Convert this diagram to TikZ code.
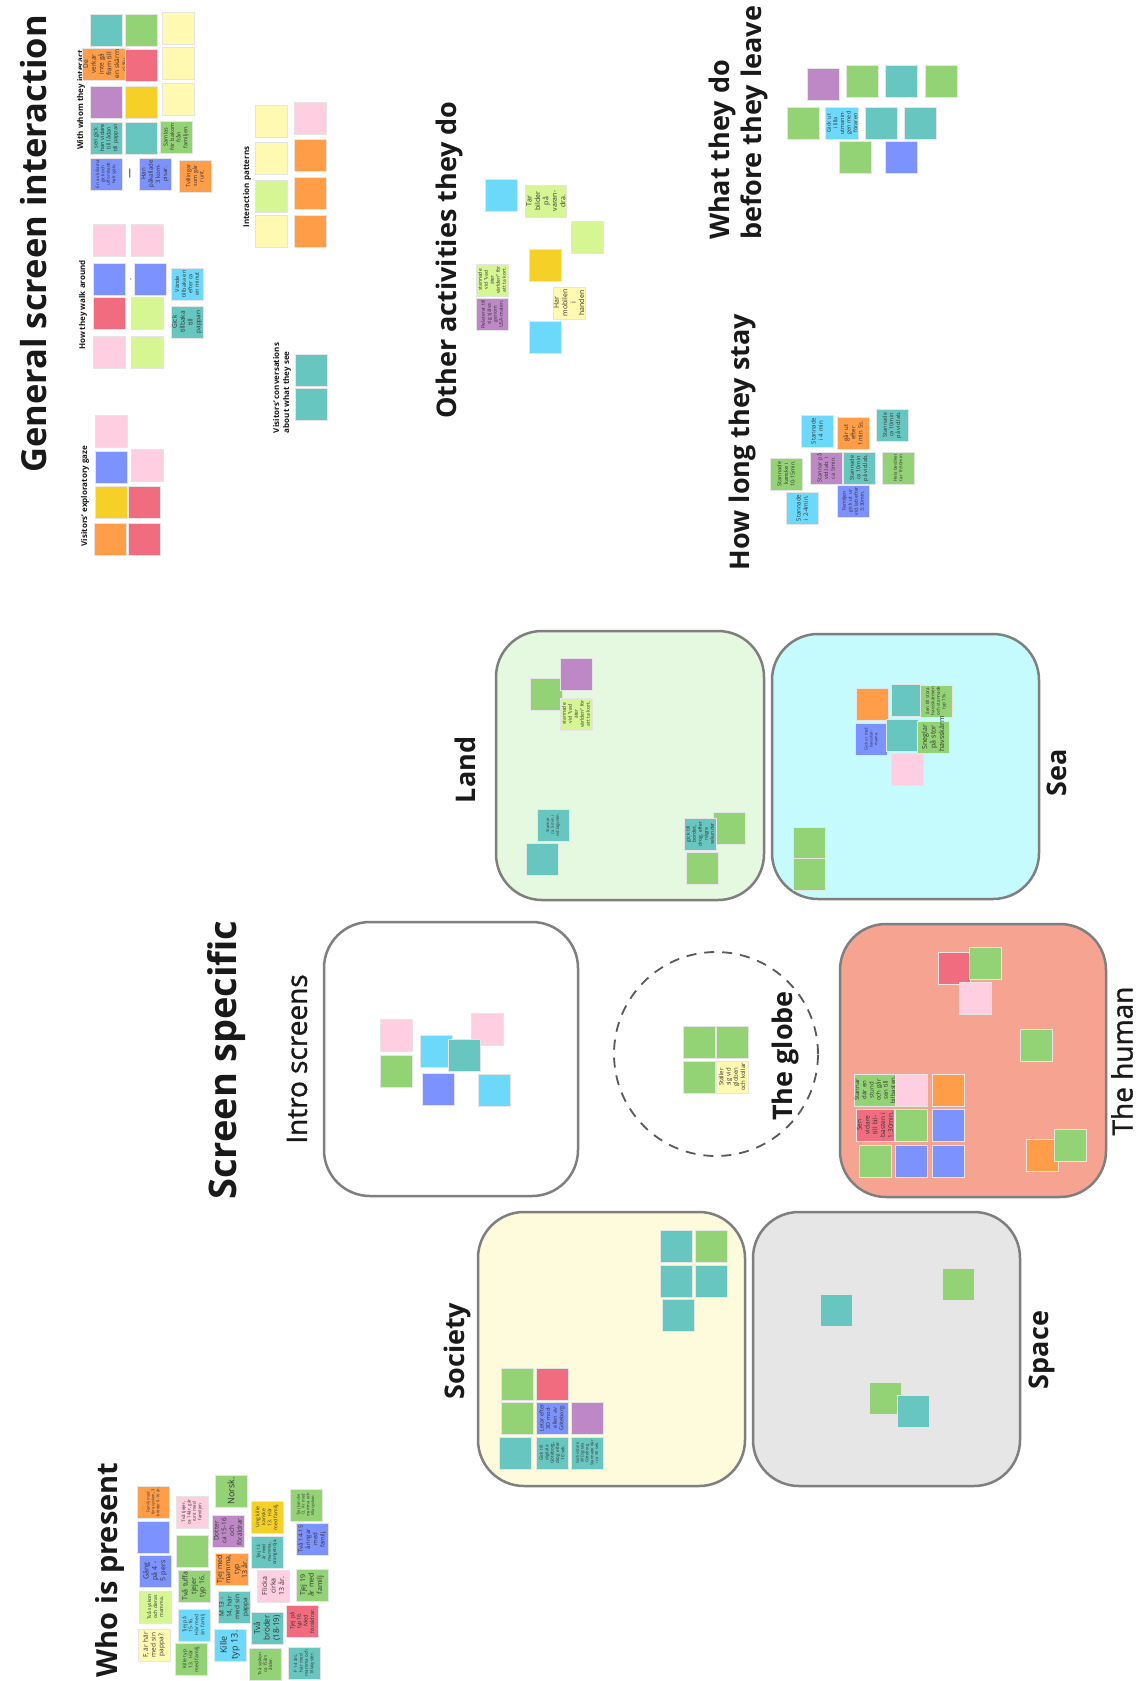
\documentclass[tikz,border=0pt]{standalone}
\usepackage{fontspec}
\setmainfont{Open Sans}
\newfontfamily\semibold[FakeBold=1.2]{Open Sans}
\begin{document}
\begin{tikzpicture}[x=1pt,y=-1pt,
  nt/.style={draw=black!10, line width=0.5pt, minimum size=32pt, inner sep=1pt,
    rotate=90, text width=29pt, align=center, text=black!80,
    font=\fontsize{5}{6}\selectfont},
  f4/.style={font=\fontsize{4}{4.8}\selectfont},
  f45/.style={font=\fontsize{4.5}{5.4}\selectfont},
  f5/.style={font=\fontsize{5}{6}\selectfont},
  f55/.style={font=\fontsize{5.5}{6.6}\selectfont},
  f6/.style={font=\fontsize{6}{7.2}\selectfont},
  f65/.style={font=\fontsize{6.5}{7.8}\selectfont},
  f7/.style={font=\fontsize{7}{8.4}\selectfont},
  f8/.style={font=\fontsize{8}{9.6}\selectfont},
  f9/.style={font=\fontsize{9}{10.8}\selectfont},
  frm/.style={draw=frameGrey, line width=2.5pt, rounded corners=46pt},
  ttl/.style={rotate=90, inner sep=0pt, text=black!90,
    font=\bfseries\fontsize{27}{32}\selectfont},
  sub/.style={rotate=90, inner sep=0pt, text=black!90, align=left,
    font=\bfseries\fontsize{8}{10}\selectfont}]

\definecolor{cTeal}{HTML}{67C6C0}
\definecolor{cGreen}{HTML}{93D275}
\definecolor{cLime}{HTML}{D5F692}
\definecolor{cYel}{HTML}{FFF9B1}
\definecolor{cGold}{HTML}{F5D128}
\definecolor{cOrange}{HTML}{FF9D48}
\definecolor{cRed}{HTML}{F16C7F}
\definecolor{cPink}{HTML}{FFCEE0}
\definecolor{cPurple}{HTML}{BE88C7}
\definecolor{cBlue}{HTML}{7B92FF}
\definecolor{cCyan}{HTML}{6CD8FA}
\definecolor{fLand}{HTML}{E4F9E0}
\definecolor{fSea}{HTML}{C6FBFD}
\definecolor{fHuman}{HTML}{F6A392}
\definecolor{fSociety}{HTML}{FEFADC}
\definecolor{fSpace}{HTML}{E6E6E6}
\definecolor{frameGrey}{HTML}{7F7F7F}

\useasboundingbox[fill=white] (0,0) rectangle (1141,1681);

% ---------------- General screen interaction ----------------
\node[ttl, font=\bfseries\fontsize{34.5}{40}\selectfont] (tGeneral) at (34,244) {General screen interaction};

\node[sub] (tWhom) at (81,100) {With whom they interact};
\node[nt, fill=cTeal] (w1) at (106,30) {};
\node[nt, fill=cOrange, f65] (w2) at (106,64) {De verkar inte gå fram till en skärm själv.};
\node[nt, fill=cPurple] (w3) at (106,102) {};
\node[nt, fill=cTeal, f55] (w4) at (106,138) {sen gick han vidare till lådan till pappan};
\node[nt, fill=cBlue, f45] (w5) at (106,174) {En av killarna gick och utforskade helt själv.};
\node[nt, fill=cGreen] (w6) at (141,30) {};
\node[nt, fill=cRed] (w7) at (141,65) {};
\node[nt, fill=cGold] (w8) at (141,102) {};
\node[nt, fill=cTeal] (w9) at (141,138) {};
\node[nt, fill=cBlue, f6] (w10) at (155,174) {Han påkallade 3 kompisar.};
\node[rotate=90, inner sep=0pt, font=\fontsize{10}{12}\selectfont] (wDash) at (131,173) {—};
\node[nt, fill=cYel] (w11) at (178,28) {};
\node[nt, fill=cYel] (w12) at (178,63) {};
\node[nt, fill=cYel] (w13) at (178,99) {};
\node[nt, fill=cGreen, f55] (w14) at (176,137) {Samlas för bakom från familjen.};
\node[nt, fill=cOrange, f55] (w15) at (195,176) {Tvillingar som går runt.};

\node[sub] (tWalk) at (83,305) {How they walk around};
\node[nt, fill=cPink] (k1) at (109,240) {};
\node[nt, fill=cPink] (k2) at (147,240) {};
\node[nt, fill=cBlue] (k3) at (109,279) {};
\node[nt, fill=cBlue] (k4) at (150,279) {};
\node[rotate=90, inner sep=0pt, font=\fontsize{8}{10}\selectfont] (kDot) at (131,279) {.};
\node[nt, fill=cRed] (k5) at (109,313) {};
\node[nt, fill=cLime] (k6) at (147,313) {};
\node[nt, fill=cCyan, f55] (k7) at (187,284) {Vände tillbaka en efter ca en minut};
\node[nt, fill=cTeal, f65] (k8) at (187,322) {Gick tillbaka till pappan};
\node[nt, fill=cPink] (k9) at (109,352) {};
\node[nt, fill=cLime] (k10) at (147,352) {};

\node[sub] (tGaze) at (85,496) {Visitors' exploratory gaze};
\node[nt, fill=cPink] (z1) at (111,431) {};
\node[nt, fill=cBlue] (z2) at (111,467) {};
\node[nt, fill=cPink] (z3) at (147,465) {};
\node[nt, fill=cGold] (z4) at (111,502) {};
\node[nt, fill=cRed] (z5) at (144,502) {};
\node[nt, fill=cOrange] (z6) at (110,539) {};
\node[nt, fill=cRed] (z7) at (144,539) {};

\node[sub] (tPattern) at (247,187) {Interaction patterns};
\node[nt, fill=cYel] (p1) at (271,121) {};
\node[nt, fill=cYel] (p2) at (271,158) {};
\node[nt, fill=cLime] (p3) at (271,196) {};
\node[nt, fill=cYel] (p4) at (271,231) {};
\node[nt, fill=cPink] (p5) at (310,118) {};
\node[nt, fill=cOrange] (p6) at (310,155) {};
\node[nt, fill=cOrange] (p7) at (310,193) {};
\node[nt, fill=cOrange] (p8) at (310,231) {};

\node[sub] (tTalk) at (282,388) {Visitors' conversations\\about what they see};
\node[nt, fill=cTeal] (c1) at (311,370) {};
\node[nt, fill=cTeal] (c2) at (311,404) {};

% ---------------- Other activities ----------------
\node[ttl] (tOther) at (449,260) {Other activities they do};
\node[nt, fill=cCyan] (o1) at (501,195) {};
\node[nt, fill=cLime, f7] (o2) at (546,201) {Tar bilder på varandra.};
\node[nt, fill=cLime] (o3) at (587,237) {};
\node[nt, fill=cGold] (o4) at (545,265) {};
\node[nt, fill=cLime, f5] (o5) at (492,280) {stannade vid ''vad äter världen'' för att ta kort.};
\node[nt, fill=cPurple, f5] (o6) at (492,314) {Relaterar till sig själva genom USA-maten.};
\node[nt, fill=cYel, f7] (o7) at (569,303) {Har mobilen i handen};
\node[nt, fill=cCyan] (o8) at (545,337) {};

% ---------------- Before they leave ----------------
\node[ttl, align=left] (tLeave) at (738,123) {What they do\\before they leave};
\node[nt, fill=cPurple] (l1) at (823,84) {};
\node[nt, fill=cGreen] (l2) at (862,81) {};
\node[nt, fill=cTeal] (l3) at (901,81) {};
\node[nt, fill=cGreen] (l4) at (941,81) {};
\node[nt, fill=cGreen] (l5) at (803,123) {};
\node[nt, fill=cCyan, f55] (l6) at (842,123) {Gick ut i lilla utmaningen med föraren};
\node[nt, fill=cTeal] (l7) at (881,123) {};
\node[nt, fill=cTeal] (l8) at (920,123) {};
\node[nt, fill=cGreen] (l9) at (855,157) {};
\node[nt, fill=cBlue] (l10) at (901,157) {};

% ---------------- How long they stay ----------------
\node[ttl] (tStay) at (742,442) {How long they stay};
\node[nt, fill=cCyan, f6] (s1) at (817,431) {Stannade i 4 min};
\node[nt, fill=cOrange, f6] (s2) at (853,433) {går ut efter 1min 5s.};
\node[nt, fill=cTeal, f55] (s3) at (892,425) {Stannade ca 10min på vid.lab.};
\node[nt, fill=cPurple, f55] (s4) at (826,468) {Stannar på vid.lab. i ca 5min.};
\node[nt, fill=cTeal, f55] (s5) at (859,468) {Stannade ca 10min på vid.lab.};
\node[nt, fill=cGreen, f45] (s6) at (898,468) {Hela besöket tar 1h50min};
\node[nt, fill=cGreen, f55] (s7) at (786,474) {Stannade kanske i 10-15min.};
\node[nt, fill=cBlue, f5] (s8) at (853,501) {Familjen gick ut ur vid.lab efter 3:30min.};
\node[nt, fill=cCyan, f6] (s9) at (802,508) {Stannade i 2-4min.};

% ---------------- Screen specific ----------------
\node[ttl, font=\bfseries\fontsize{38}{44}\selectfont] (tScreen) at (227,1060) {Screen specific};

\node[frm, fill=fLand, minimum width=268pt, minimum height=269pt] (land) at (630,765.5) {};
\node[frm, fill=fSea, minimum width=267pt, minimum height=265pt] (sea) at (905.5,766.5) {};
\node[frm, fill=white, minimum width=254pt, minimum height=274pt] (intro) at (451,1059) {};
\node[frm, fill=fHuman, minimum width=266pt, minimum height=273pt] (human) at (973,1060.5) {};
\node[frm, fill=fSociety, minimum width=267pt, minimum height=274pt] (society) at (611.5,1349) {};
\node[frm, fill=fSpace, minimum width=267pt, minimum height=274pt] (space) at (886.5,1349) {};
\node[circle, draw=black!65, line width=1.8pt, dash pattern=on 10pt off 8pt, minimum size=204pt] (globe) at (716,1054) {};

\node[ttl] (tLand) at (465,770) {Land};
\node[ttl] (tSea) at (1057,773) {Sea};
\node[ttl, font=\semibold\fontsize{28}{32}\selectfont] (tIntro) at (297,1059) {Intro screens};
\node[ttl] (tGlobe) at (785,1056) {The globe};
\node[ttl, font=\semibold\fontsize{28}{32}\selectfont] (tHuman) at (1122,1061) {The human};
\node[ttl] (tSociety) at (457,1351) {Society};
\node[ttl] (tSpace) at (1042,1350) {Space};

% Land
\node[nt, fill=cGreen] (a2) at (546,694) {};
\node[nt, fill=cPurple] (a1) at (576,674) {};
\node[nt, fill=cLime, f5] (a3) at (576,714) {stannade vid ''vad äter världen'' för att ta kort.};
\node[nt, fill=cTeal, f4] (a4) at (553,825) {Stannar ca 5 min i vid.lagunen.};
\node[nt, fill=cTeal] (a5) at (542,859) {};
\node[nt, fill=cGreen] (a6) at (729,828) {};
\node[nt, fill=cTeal, f5] (a7) at (700,834) {gick till bordet, drog, efter några sekunder};
\node[nt, fill=cGreen] (a8) at (702,868) {};

% Sea
\node[nt, fill=cOrange] (e1) at (872,704) {};
\node[nt, fill=cTeal] (e2) at (907,700) {};
\node[nt, fill=cGreen, f45] (e3) at (936,701) {Sen till stora havsskärmen och stannade typ 15s.};
\node[nt, fill=cBlue, f4] (e4) at (871,739) {Gick ut med havsskärmarna.};
\node[nt, fill=cTeal] (e5) at (902,735) {};
\node[nt, fill=cGreen, f7] (e6) at (933,737) {Sneglar på stor havsskärm};
\node[nt, fill=cPink] (e7) at (907,769) {};
\node[nt, fill=cGreen] (e8) at (809,843) {};
\node[nt, fill=cGreen] (e9) at (809,874) {};

% Intro screens
\node[nt, fill=cPink] (i1) at (396,1035) {};
\node[nt, fill=cGreen] (i2) at (396,1071) {};
\node[nt, fill=cPink] (i5) at (487,1029) {};
\node[nt, fill=cCyan] (i3) at (436,1051) {};
\node[nt, fill=cTeal] (i4) at (464,1055) {};
\node[nt, fill=cBlue] (i6) at (438,1089) {};
\node[nt, fill=cCyan] (i7) at (494,1090) {};

% The globe
\node[nt, fill=cGreen] (g1) at (699,1042) {};
\node[nt, fill=cGreen] (g2) at (732,1042) {};
\node[nt, fill=cGreen] (g3) at (699,1077) {};
\node[nt, fill=cYel, f6] (g4) at (732,1077) {Ställer sig vid globen och kollar};

% The human
\node[nt, fill=cRed] (h1) at (954,968) {};
\node[nt, fill=cGreen] (h2) at (985,963) {};
\node[nt, fill=cPink] (h3) at (975,998) {};
\node[nt, fill=cGreen] (h4) at (1036,1045) {};
\node[nt, fill=cGreen, f6] (h5) at (875,1090) {Stannar där en stund och går sen till bilbasten.};
\node[nt, fill=cPink] (h6) at (911,1090) {};
\node[nt, fill=cOrange] (h7) at (948,1090) {};
\node[nt, fill=cRed, f65] (h8) at (875,1125) {Sen vidare till bilbasten i 1:30min.};
\node[nt, fill=cGreen] (h9) at (911,1125) {};
\node[nt, fill=cBlue] (h10) at (948,1125) {};
\node[nt, fill=cGreen] (h11) at (875,1161) {};
\node[nt, fill=cBlue] (h12) at (911,1161) {};
\node[nt, fill=cBlue] (h13) at (948,1161) {};
\node[nt, fill=cOrange] (h14) at (1042,1155) {};
\node[nt, fill=cGreen] (h15) at (1070,1145) {};

% Society
\node[nt, fill=cTeal] (y1) at (676,1246) {};
\node[nt, fill=cGreen] (y2) at (711,1246) {};
\node[nt, fill=cTeal] (y3) at (676,1281) {};
\node[nt, fill=cTeal] (y4) at (711,1281) {};
\node[nt, fill=cTeal] (y5) at (678,1315) {};
\node[nt, fill=cGreen] (y6) at (517,1384) {};
\node[nt, fill=cRed] (y7) at (552,1384) {};
\node[nt, fill=cGreen] (y8) at (517,1418) {};
\node[nt, fill=cBlue, f55] (y9) at (552,1418) {Letar efter 3D modellen av Göteborg.};
\node[nt, fill=cPurple] (y10) at (587,1418) {};
\node[nt, fill=cTeal] (y11) at (515,1453) {};
\node[nt, fill=cTeal, f45] (y12) at (552,1453) {Gick till digitala Göteborg, drog efter 10 sek.};
\node[nt, fill=cTeal, f4] (y13) at (587,1453) {Gick vidare till Digitala Göteborg. Stannade där i ca 30 sek.};

% Space
\node[nt, fill=cTeal] (p21) at (836,1310) {};
\node[nt, fill=cGreen] (p22) at (958,1284) {};
\node[nt, fill=cGreen] (p23) at (885,1398) {};
\node[nt, fill=cTeal] (p24) at (913,1411) {};

% ---------------- Who is present ----------------
\node[ttl, font=\bfseries\fontsize{29}{35}\selectfont] (tWho) at (110,1570) {Who is present};
\node[nt, fill=cOrange, f4] (q1) at (153,1502) {Familj med fyra syskon, 3 bröder 8-16 år.};
\node[nt, fill=cBlue] (q2) at (153,1537) {};
\node[nt, fill=cBlue, f7] (q3) at (155,1571) {Gång på 4 - 5 pers};
\node[nt, fill=cLime, f5] (q4) at (155,1607) {Två syskon och deras mamma.};
\node[nt, fill=cYel, f65] (q5) at (154,1645) {F, är här med sin pappa?};
\node[nt, fill=cPink, f45] (q6) at (192,1512) {Två tjejer, ca 14år, går runt med familjen};
\node[nt, fill=cGreen] (q7) at (192,1551) {};
\node[nt, fill=cGreen, f7] (q8) at (194,1586) {Två tuffa tjejer typ 16.};
\node[nt, fill=cCyan, f5] (q9) at (194,1625) {Tjej på 15-16. Här med sin familj};
\node[nt, fill=cGreen, f5] (q10) at (191,1659) {Kille typ 13. Här med familj.};
\node[nt, fill=cGreen, f9] (q11) at (231,1491) {Norsk.};
\node[nt, fill=cPurple, f65] (q12) at (228,1531) {Dotter ca 15-16 och föräldrar.};
\node[nt, fill=cOrange, f7] (q13) at (232,1569) {Tjej med mamma, typ 13 år.};
\node[nt, fill=cTeal, f65] (q14) at (234,1607) {M 13 - 14, här med sin pappa};
\node[nt, fill=cCyan, f9] (q15) at (230,1645) {Kille typ 13.};
\node[nt, fill=cGold, f5] (q16) at (267,1517) {Ung kille kanske 13. Här med familj.};
\node[nt, fill=cTeal, f45] (q17) at (267,1552) {Tjej 13 år med mamma, orangetröja.};
\node[nt, fill=cPink, f7] (q18) at (273,1586) {Flicka cirka 13 år.};
\node[nt, fill=cTeal, f8] (q19) at (267,1628) {Två bröder (18-19)};
\node[nt, fill=cGreen, f45] (q20) at (265,1664) {Två syskon ca 15års ålder.};
\node[nt, fill=cGreen, f4] (q21) at (306,1505) {Tjej kanske 13. Är med mamma och lillasyskon.};
\node[nt, fill=cBlue, f6] (q22) at (312,1539) {Två 14-15 åringar med familj.};
\node[nt, fill=cGreen, f7] (q23) at (312,1585) {Tjej 19 år med familj};
\node[nt, fill=cRed, f55] (q24) at (302,1621) {Tjej på typ16. Med föräldrar.};
\node[nt, fill=cTeal, f45] (q25) at (304,1663) {F 14 års, här med mamma och lillasyster.};

\end{tikzpicture}
\end{document}
